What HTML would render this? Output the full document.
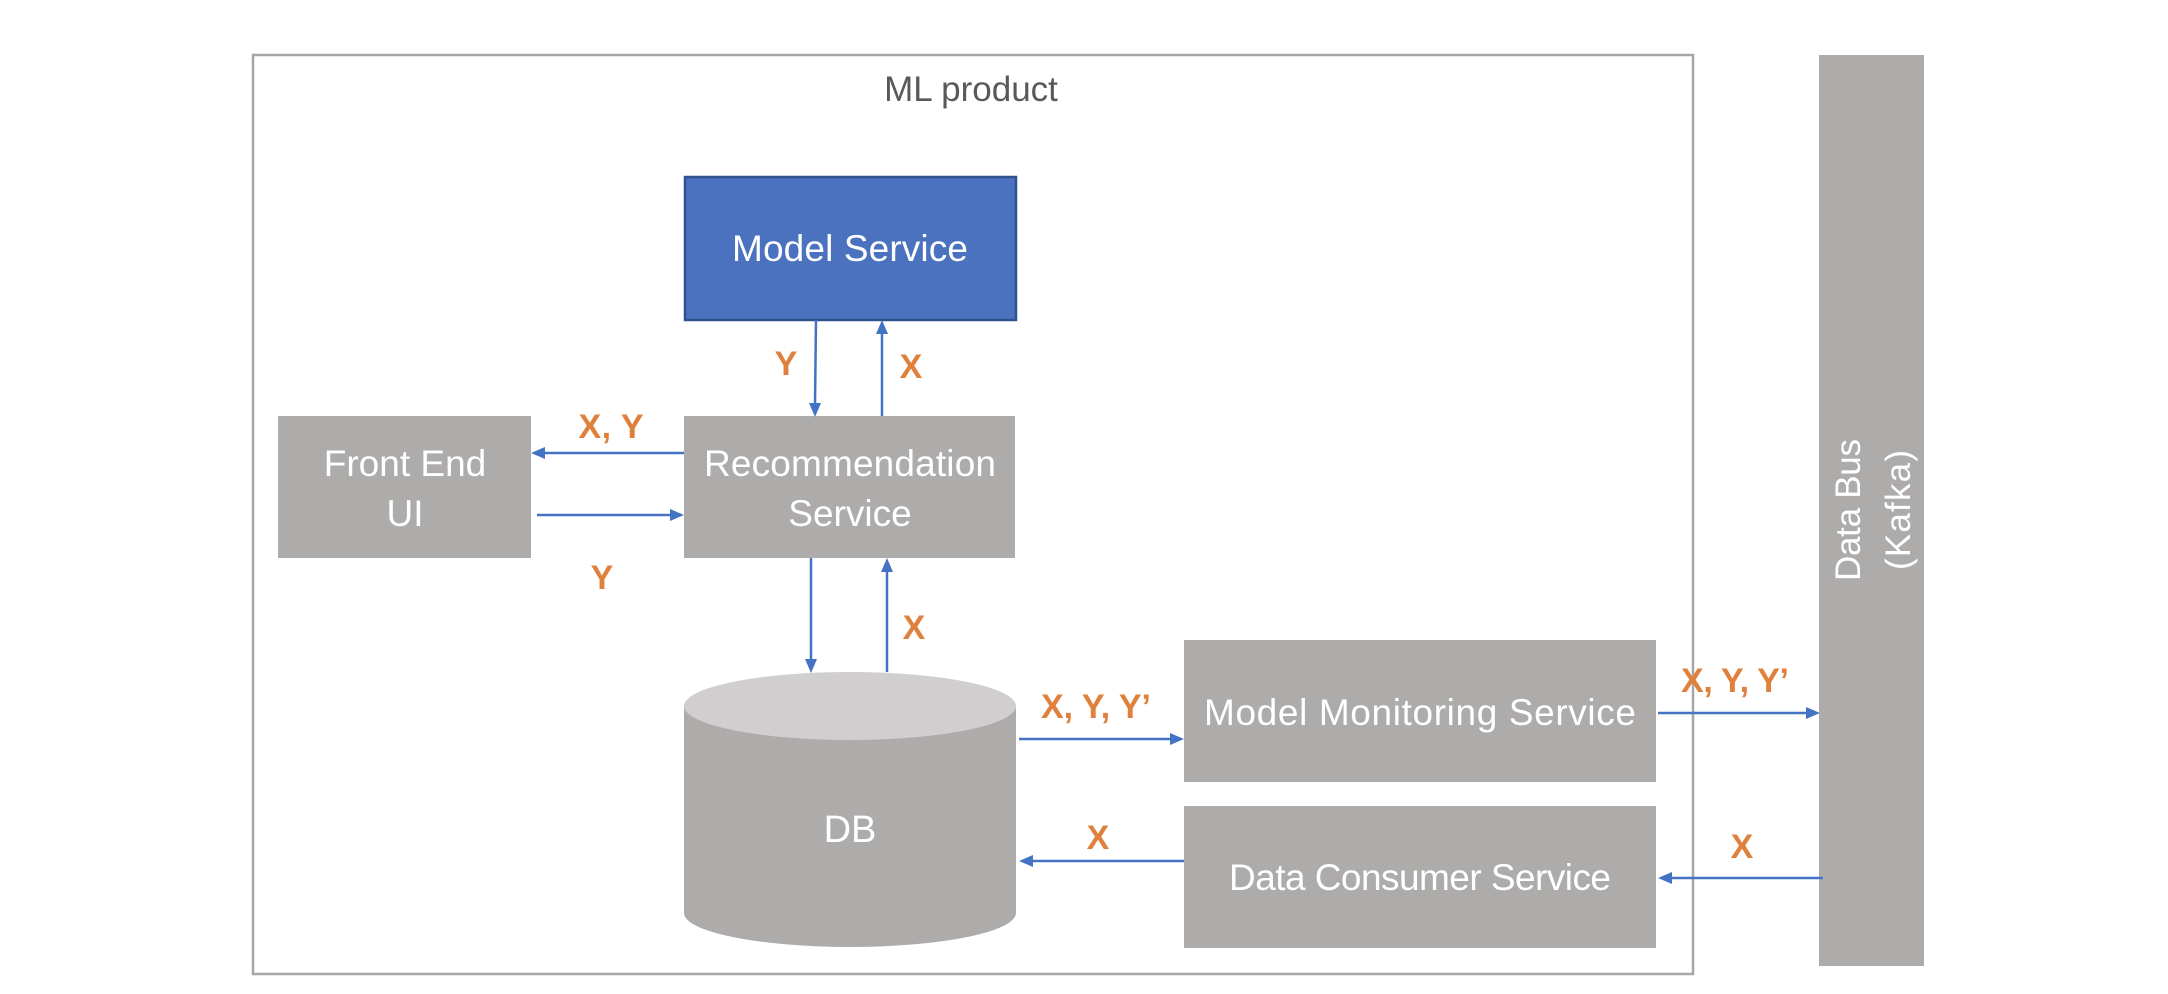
<!DOCTYPE html>
<html><head><meta charset="utf-8"><style>html,body{margin:0;padding:0;background:#fff}svg{display:block}</style></head>
<body>
<svg width="2168" height="994" viewBox="0 0 2168 994" xmlns="http://www.w3.org/2000/svg" font-family="'Liberation Sans', sans-serif">
<rect x="253" y="55" width="1440" height="919" fill="none" stroke="#a6a6a6" stroke-width="2.5"/>
<text x="971" y="101" font-size="35" fill="#595959" text-anchor="middle">ML product</text>

<rect x="685" y="177" width="331" height="143" fill="#4a72bf" stroke="#2f528f" stroke-width="2.5"/>
<text x="850" y="261" font-size="37" fill="#fff" text-anchor="middle" textLength="236">Model Service</text>

<rect x="278" y="416" width="253" height="142" fill="#aeabab"/>
<text x="405" y="476" font-size="37" fill="#fff" text-anchor="middle">Front End</text>
<text x="405" y="526" font-size="37" fill="#fff" text-anchor="middle">UI</text>

<rect x="684" y="416" width="331" height="142" fill="#aeabab"/>
<text x="850" y="476" font-size="37" fill="#fff" text-anchor="middle" textLength="292">Recommendation</text>
<text x="850" y="526" font-size="37" fill="#fff" text-anchor="middle">Service</text>

<path d="M684 706 L684 913 A166 34 0 0 0 1016 913 L1016 706 Z" fill="#aeabab"/>
<ellipse cx="850" cy="706" rx="166" ry="34" fill="#d0cece"/>
<text x="850" y="842" font-size="38" fill="#fff" text-anchor="middle">DB</text>

<rect x="1184" y="640" width="472" height="142" fill="#aeabab"/>
<text x="1420" y="725" font-size="37" fill="#fff" text-anchor="middle" textLength="432">Model Monitoring Service</text>
<rect x="1184" y="806" width="472" height="142" fill="#aeabab"/>
<text x="1420" y="890" font-size="37" fill="#fff" text-anchor="middle" textLength="382">Data Consumer Service</text>

<rect x="1819" y="55" width="105" height="911" fill="#aeabab"/>
<g transform="translate(1872,510) rotate(-90)">
<text x="0" y="-12" font-size="35" fill="#fff" text-anchor="middle" textLength="142">Data Bus</text>
<text x="0" y="38" font-size="35" fill="#fff" text-anchor="middle" textLength="120">(Kafka)</text>
</g>

<g stroke="#4472c4" stroke-width="2.5" fill="none">
<line x1="816" y1="320" x2="815" y2="405"/>
<line x1="882" y1="416" x2="882" y2="332"/>
<line x1="684" y1="453" x2="543" y2="453"/>
<line x1="537" y1="515" x2="672" y2="515"/>
<line x1="811" y1="558" x2="811" y2="661"/>
<line x1="887" y1="672" x2="887" y2="570"/>
<line x1="1019" y1="739" x2="1172" y2="739"/>
<line x1="1658" y1="713" x2="1808" y2="713"/>
<line x1="1184" y1="861" x2="1031" y2="861"/>
<line x1="1823" y1="878" x2="1670" y2="878"/>
</g>
<g fill="#4472c4">
<polygon points="809,403 821,403 815,417"/>
<polygon points="876,334 888,334 882,320"/>
<polygon points="545,447 545,459 531,453"/>
<polygon points="670,509 670,521 684,515"/>
<polygon points="805,659 817,659 811,673"/>
<polygon points="881,572 893,572 887,558"/>
<polygon points="1170,733 1170,745 1184,739"/>
<polygon points="1806,707 1806,719 1820,713"/>
<polygon points="1033,855 1033,867 1019,861"/>
<polygon points="1672,872 1672,884 1658,878"/>
</g>

<g font-size="34" font-weight="bold" fill="#e0803d" text-anchor="middle">
<text x="786" y="375">Y</text>
<text x="911" y="378">X</text>
<text x="611" y="438" textLength="65">X, Y</text>
<text x="602" y="589">Y</text>
<text x="914" y="639">X</text>
<text x="1096" y="718" textLength="110">X, Y, Y’</text>
<text x="1735" y="692" textLength="108">X, Y, Y’</text>
<text x="1098" y="849">X</text>
<text x="1742" y="858">X</text>
</g>
</svg>
</body></html>
